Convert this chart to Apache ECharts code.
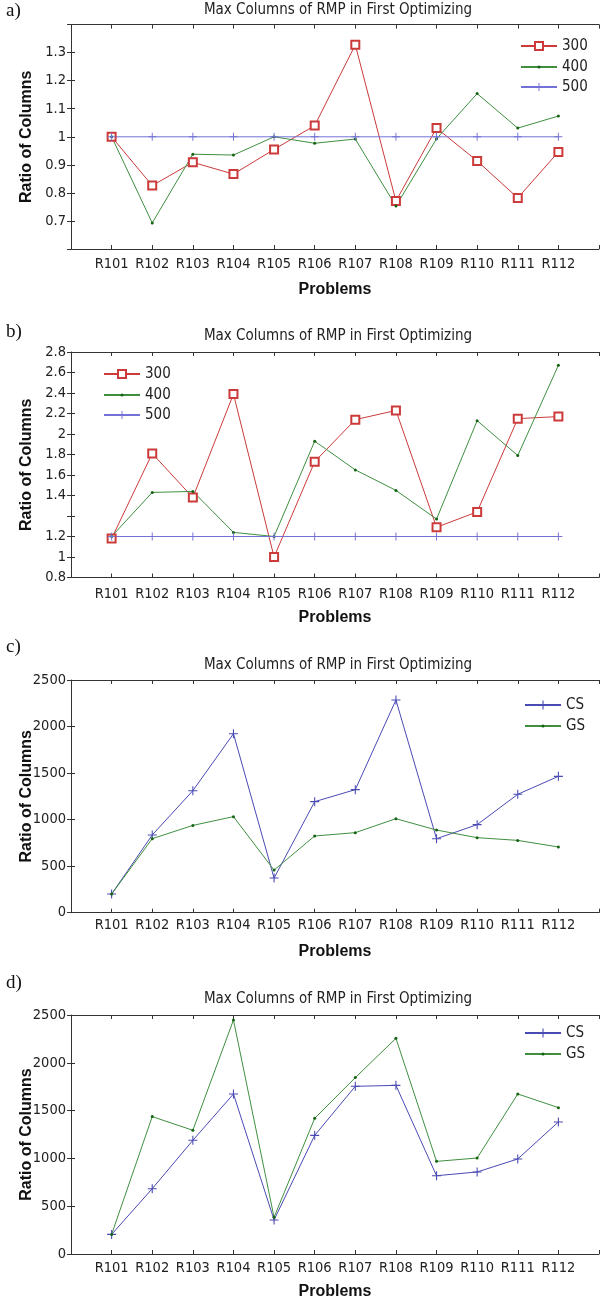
<!DOCTYPE html>
<html>
<head>
<meta charset="utf-8">
<script src="https://cdn.jsdelivr.net/npm/echarts@6/dist/echarts.min.js"></script>
<style>
html,body{margin:0;padding:0;background:#fff}
#main{width:602px;height:1302px}
</style>
</head>
<body>
<div id="main"></div>
<script>
// data
var problems = ['R101','R102','R103','R104','R105','R106','R107','R108','R109','R110','R111','R112'];
var a300 = [1.00, 0.826, 0.909, 0.867, 0.955, 1.040, 1.328, 0.771, 1.031, 0.914, 0.782, 0.946];
var a400 = [1.00, 0.693, 0.938, 0.935, 1.000, 0.977, 0.992, 0.753, 0.993, 1.154, 1.031, 1.074];
var a500 = [1, 1, 1, 1, 1, 1, 1, 1, 1, 1, 1, 1];
var b300 = [0.98, 1.81, 1.38, 2.39, 0.80, 1.73, 2.14, 2.23, 1.09, 1.24, 2.15, 2.17];
var b400 = [1.00, 1.43, 1.44, 1.04, 1.00, 1.93, 1.65, 1.45, 1.17, 2.13, 1.79, 2.67];
var b500 = [1, 1, 1, 1, 1, 1, 1, 1, 1, 1, 1, 1];
// tick texts of panel b as printed, from the bottom tick up (one tick has no text)
var bTickLabels = ['0.8','1','1.2','','1.4','1.6','1.8','2','2.2','2.4','2.6','2.8'];
var cCS = [200, 835, 1311, 1923, 372, 1193, 1322, 2285, 795, 946, 1272, 1465];
var cGS = [200, 795, 938, 1032, 458, 824, 860, 1010, 888, 806, 777, 706];
var dCS = [205, 683, 1189, 1674, 356, 1241, 1754, 1764, 819, 858, 994, 1381];
var dGS = [205, 1437, 1294, 2448, 384, 1419, 1845, 2256, 969, 1004, 1674, 1531];

var narrow = "'DejaVu Sans Condensed','Liberation Sans Narrow',sans-serif";
var bold = "'Liberation Sans',sans-serif";
var RED = '#cc3a3a', GREEN = '#3f8f3f', GREEN_DOT = '#136313', BLUE_L = '#7272d6', BLUE = '#4a4ab4';
var PLUS = 'path://M4.4,0H5.6V4.4H10V5.6H5.6V10H4.4V5.6H0V4.4H4.4Z';

// one entry per panel; legend rows give the centre line of each entry
var panels = [
    {tag:'a)', tagY:12, titleY:10, top:24.6, height:224.4, labelMargin:8, nameGap:33,
     ymin:0.6, ymax:1.4, yint:0.1, legendLeft:520, legendRows:[46, 67, 87]},
    {tag:'b)', tagY:333, titleY:336, top:352, height:225.5, labelMargin:9, nameGap:32,
     ymin:0.6, ymax:2.8, yint:0.2, legendLeft:103, legendRows:[374, 395, 415]},
    {tag:'c)', tagY:648, titleY:665, top:680, height:232.7, labelMargin:5, nameGap:31,
     ymin:0, ymax:2500, yint:500, legendLeft:524, legendRows:[705, 726]},
    {tag:'d)', tagY:984, titleY:999, top:1015, height:239, labelMargin:6.5, nameGap:30,
     ymin:0, ymax:2500, yint:500, legendLeft:524, legendRows:[1033, 1054]}
];

function pts(arr){
    return arr.map(function(v, i){ return [i + 1, v]; });
}

function yFormatter(k){
    if(k === 0) return function(v){ return String(+v.toFixed(1)); };
    if(k === 1) return function(v){ return bTickLabels[Math.round((v - 0.6) / 0.2)]; };
    return function(v){ return String(v); };
}

function line(k, name, arr, color, symbol, size, dotColor){
    var s = {
        name: name, type: 'line', xAxisIndex: 2 * k, yAxisIndex: 2 * k,
        data: pts(arr), symbol: symbol, symbolSize: size, showAllSymbol: true,
        animation: false, silent: true,
        lineStyle: {color: color, width: 1},
        itemStyle: {color: dotColor || color}
    };
    if(symbol === 'emptyRect'){
        s.itemStyle = {color: color, borderColor: color, borderWidth: 1};
    }
    return s;
}

var option = {
    backgroundColor: '#fff',
    animation: false,
    title: [], grid: [], xAxis: [], yAxis: [], legend: [], series: [], graphic: []
};

var innerTick = {show: true, inside: true, length: 4, lineStyle: {color: '#333', width: 1}};

panels.forEach(function(p, k){
    option.title.push({
        text: 'Max Columns of RMP in First Optimizing',
        left: 338, top: p.titleY, textAlign: 'center', textVerticalAlign: 'middle', padding: 0,
        textStyle: {fontFamily: narrow, fontSize: 15, fontWeight: 'normal', color: '#222'}
    });
    option.graphic.push({
        type: 'text', left: 6, top: p.tagY - 10,
        style: {text: p.tag, font: '19px "Liberation Serif", serif', fill: '#111'}
    });
    option.grid.push({left: 71, top: p.top, width: 533, height: p.height});
    option.xAxis.push({
        type: 'value', gridIndex: k, min: 0, max: 13, interval: 1, position: 'bottom',
        name: 'Problems', nameLocation: 'middle', nameGap: p.nameGap, nameMoveOverlap: false,
        nameTextStyle: {fontFamily: bold, fontWeight: 'bold', fontSize: 16, color: '#111'},
        axisLine: {show: true, onZero: false, lineStyle: {color: '#333', width: 1}},
        axisTick: innerTick, splitLine: {show: false},
        axisLabel: {margin: p.labelMargin, fontFamily: narrow, fontSize: 14.5, color: '#222',
            formatter: function(v){ return problems[v - 1] || ''; }}
    }, {
        type: 'value', gridIndex: k, min: 0, max: 13, interval: 1, position: 'top',
        axisLine: {show: true, onZero: false, lineStyle: {color: '#333', width: 1}},
        axisTick: innerTick, axisLabel: {show: false}, splitLine: {show: false}
    });
    option.yAxis.push({
        type: 'value', gridIndex: k, min: p.ymin, max: p.ymax, interval: p.yint, position: 'left',
        name: 'Ratio of Columns', nameLocation: 'middle', nameGap: 36, nameMoveOverlap: false,
        nameTextStyle: {fontFamily: bold, fontWeight: 'bold', fontSize: 16, color: '#111'},
        axisLine: {show: true, onZero: false, lineStyle: {color: '#333', width: 1}},
        axisTick: innerTick, splitLine: {show: false},
        axisLabel: {margin: 5, fontFamily: narrow, fontSize: 14.5, color: '#222',
            showMinLabel: k !== 0, showMaxLabel: k !== 0, formatter: yFormatter(k)}
    }, {
        type: 'value', gridIndex: k, min: p.ymin, max: p.ymax, interval: p.yint, position: 'right',
        axisLine: {show: false}, axisTick: innerTick, axisLabel: {show: false}, splitLine: {show: false}
    });
});

var seriesList = [
    line(0, '300', a300, RED, 'emptyRect', 8),
    line(0, '400', a400, GREEN, 'circle', 3, GREEN_DOT),
    line(0, '500', a500, BLUE_L, PLUS, 8),
    line(1, '300', b300, RED, 'emptyRect', 8),
    line(1, '400', b400, GREEN, 'circle', 3, GREEN_DOT),
    line(1, '500', b500, BLUE_L, PLUS, 8),
    line(2, 'CS', cCS, BLUE, PLUS, 9),
    line(2, 'GS', cGS, GREEN, 'circle', 3, GREEN_DOT),
    line(3, 'CS', dCS, BLUE, PLUS, 9),
    line(3, 'GS', dGS, GREEN, 'circle', 3, GREEN_DOT)
];
option.series = seriesList;

// one legend per entry so each icon keeps its own marker size
var legendRowH = 16;
panels.forEach(function(p, k){
    var names = k < 2 ? ['300', '400', '500'] : ['CS', 'GS'];
    names.forEach(function(n, j){
        var s = seriesList.filter(function(x){ return x.name === n && x.xAxisIndex === 2 * k; })[0];
        option.legend.push({
            orient: 'vertical', left: p.legendLeft, top: p.legendRows[j] - legendRowH / 2, padding: 0,
            itemWidth: 36, itemHeight: s.symbolSize / 0.8, itemGap: 0, selectedMode: false,
            textStyle: {fontFamily: narrow, fontSize: 15, color: '#222', lineHeight: legendRowH},
            data: [n]
        });
    });
});

var chart = echarts.init(document.getElementById('main'), null, {renderer: 'canvas'});
chart.setOption(option);
</script>
</body>
</html>
